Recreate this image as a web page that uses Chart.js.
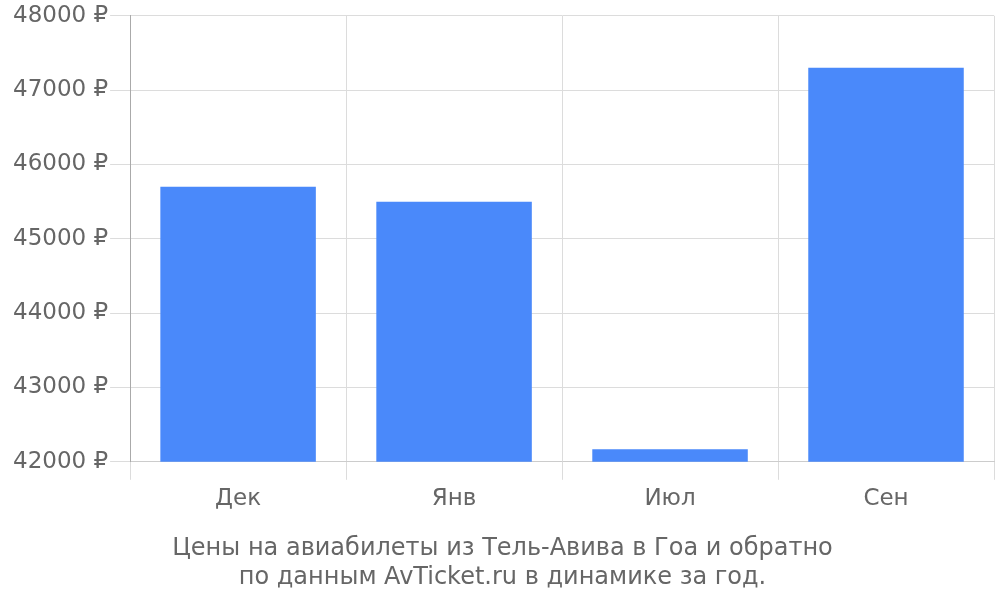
<!DOCTYPE html>
<html><head><meta charset="utf-8">
<script src="https://cdn.jsdelivr.net/npm/chart.js@4"></script>
<style>html,body{margin:0;padding:0;background:#fff}#w{width:1000px;height:600px}</style>
</head><body><div id="w"><canvas id="c"></canvas></div>
<script>
const categories = ['Дек', 'Янв', 'Июл', 'Сен'];
const prices = [45700, 45500, 42170, 47300];
const yTicks = [42000, 43000, 44000, 45000, 46000, 47000, 48000];
const titleLines = ['Цены на авиабилеты из Тель-Авива в Гоа и обратно', 'по данным AvTicket.ru в динамике за год.'];

new Chart(document.getElementById('c'), {
  type: 'bar',
  data: { labels: categories, datasets: [{ data: prices, backgroundColor: '#4a89fa', borderWidth: 0 }] },
  options: {
    responsive: true, maintainAspectRatio: false, animation: false,
    layout: { padding: { top: 4, right: 6, left: 11, bottom: 8 } },
    plugins: {
      legend: { display: false }, tooltip: { enabled: false },
      title: { display: true, position: 'bottom', text: titleLines, color: '#666',
        font: { family: 'DejaVu Sans', size: 24, weight: 'normal', lineHeight: 1.2 }, padding: { top: 17, bottom: 0 } }
    },
    scales: {
      x: {
        grid: { color: '#dcdcdc', tickLength: 18, offset: true },
        border: { color: '#ccc' },
        ticks: { color: '#666', font: { family: 'DejaVu Sans', size: 23 }, padding: 5 }
      },
      y: {
        min: yTicks[0], max: yTicks[yTicks.length - 1],
        afterBuildTicks: (ax) => { ax.ticks = yTicks.map(v => ({ value: v })); },
        grid: { color: '#dcdcdc', tickLength: 20 },
        border: { color: '#aaa' },
        ticks: { color: '#666', font: { family: 'DejaVu Sans', size: 23 }, padding: 2, callback: (v) => v + ' ₽' }
      }
    }
  }
});
</script></body></html>
